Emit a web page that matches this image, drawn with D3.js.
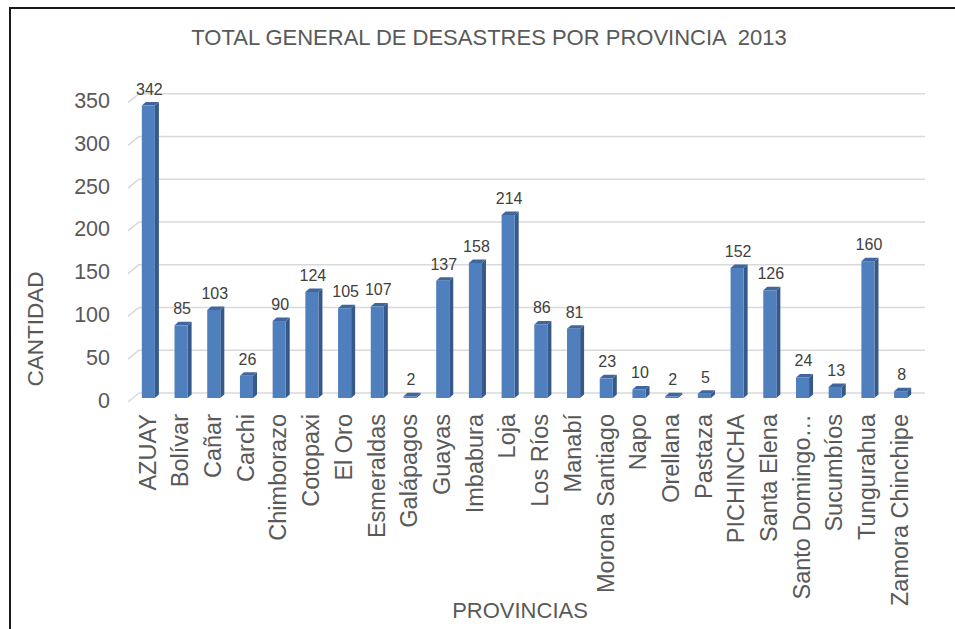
<!DOCTYPE html>
<html>
<head>
<meta charset="utf-8">
<script src="https://cdn.jsdelivr.net/npm/d3@7/dist/d3.min.js"></script>
<style>
  html, body { margin: 0; padding: 0; background: #fff; }
  svg { display: block; font-family: "Liberation Sans", Arial, sans-serif; }
</style>
</head>
<body>
<svg id="chart" width="955" height="629"></svg>
<script>
// Provinces and total disaster counts, 2013
const provinces = ["AZUAY", "Bolívar", "Cañar", "Carchi", "Chimborazo", "Cotopaxi", "El Oro",
  "Esmeraldas", "Galápagos", "Guayas", "Imbabura", "Loja", "Los Ríos", "Manabí",
  "Morona Santiago", "Napo", "Orellana", "Pastaza", "PICHINCHA", "Santa Elena",
  "Santo Domingo…", "Sucumbíos", "Tungurahua", "Zamora Chinchipe"];
const totals = [342, 85, 103, 26, 90, 124, 105, 107, 2, 137, 158, 214, 86, 81,
  23, 10, 2, 5, 152, 126, 24, 13, 160, 8];
const yTicks = [0, 50, 100, 150, 200, 250, 300, 350];

const titleText = "TOTAL GENERAL DE DESASTRES POR PROVINCIA  2013";
const yTitle = "CANTIDAD";
const xTitle = "PROVINCIAS";

const svg = d3.select("#chart");
const grey = "#595959";

// outer frame
svg.append("rect")
  .attr("x", 10).attr("y", 8).attr("width", 980).attr("height", 660)
  .attr("fill", "none").attr("stroke", "#1a1a1a").attr("stroke-width", 2);

const floorY = 398;
const x = d3.scaleBand().domain(provinces).range([132, 917])
  .paddingInner(0.6).paddingOuter(0.3);
const y = d3.scaleLinear().domain([0, 350]).range([floorY, floorY - 299.3]);

// back wall offset and bar depth
const wallDy = -5;
const depthX = 4, depthY = -3.5;

// gridlines on the back wall with the floor/side stub
const grid = svg.append("g");
yTicks.forEach(t => {
  const yb = y(t) + wallDy;
  grid.append("line")
    .attr("x1", 139).attr("x2", 925).attr("y1", yb).attr("y2", yb)
    .attr("stroke", "#d9d9d9").attr("stroke-width", 1.6);
  grid.append("line")
    .attr("x1", 128).attr("y1", yb + 9).attr("x2", 139).attr("y2", yb)
    .attr("stroke", "#d9d9d9").attr("stroke-width", 1.6);
});

// y tick labels
svg.append("g").selectAll("text").data(yTicks).join("text")
  .attr("x", 110).attr("y", d => y(d) + 2.5)
  .attr("text-anchor", "end").attr("dominant-baseline", "central")
  .attr("font-size", 21.5).attr("fill", grey)
  .text(d => d);

// 3D columns
const bars = svg.append("g").selectAll("g").data(provinces).join("g");
bars.each(function(p, i) {
  const g = d3.select(this);
  const v = totals[i];
  const bx = x(p), bw = x.bandwidth(), top = y(v);
  g.append("path")
    .attr("d", `M${bx + bw},${top} L${bx + bw + depthX},${top + depthY} L${bx + bw + depthX},${floorY + depthY} L${bx + bw},${floorY} Z`)
    .attr("fill", "#36598a");
  g.append("path")
    .attr("d", `M${bx},${top} L${bx + depthX},${top + depthY} L${bx + bw + depthX},${top + depthY} L${bx + bw},${top} Z`)
    .attr("fill", "#3f679d");
  g.append("rect")
    .attr("x", bx).attr("y", top).attr("width", bw).attr("height", floorY - top)
    .attr("fill", "#4f7fbd");
});

// value labels
svg.append("g").selectAll("text").data(provinces).join("text")
  .attr("x", p => x(p) + x.bandwidth() / 2 + 1)
  .attr("y", (p, i) => y(totals[i]) - 11)
  .attr("text-anchor", "middle")
  .attr("font-size", 16).attr("fill", "#404040")
  .text((p, i) => totals[i]);

// category labels, rotated
svg.append("g").selectAll("text").data(provinces).join("text")
  .attr("transform", p => `translate(${x(p) + x.bandwidth() / 2 - 1},414) rotate(-90)`)
  .attr("text-anchor", "end").attr("dy", "0.35em")
  .attr("font-size", 23.5).attr("fill", grey)
  .text(p => p);

// titles
svg.append("text")
  .attr("x", 489).attr("y", 45).attr("text-anchor", "middle")
  .attr("font-size", 22).attr("fill", grey)
  .style("white-space", "pre")
  .text(titleText);

svg.append("text")
  .attr("transform", "translate(43,329) rotate(-90)")
  .attr("text-anchor", "middle")
  .attr("font-size", 22.5).attr("fill", grey)
  .text(yTitle);

svg.append("text")
  .attr("x", 520).attr("y", 618).attr("text-anchor", "middle")
  .attr("font-size", 22).attr("fill", grey)
  .text(xTitle);
</script>
</body>
</html>
